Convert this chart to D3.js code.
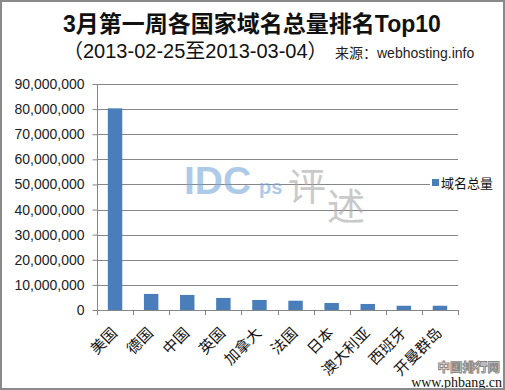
<!DOCTYPE html>
<html>
<head>
<meta charset="utf-8">
<script src="https://cdn.jsdelivr.net/npm/d3@7"></script>
<style>
  html, body { margin: 0; padding: 0; background: #fff; }
  svg { display: block; }
</style>
</head>
<body>
<svg id="chart" width="505" height="390"></svg>
<script>
const categories = ["美国", "德国", "中国", "英国", "加拿大", "法国", "日本", "澳大利亚", "西班牙", "开曼群岛"];
const values = [80300000, 6400000, 6000000, 4800000, 4000000, 3700000, 2800000, 2400000, 1700000, 1700000];
const yTicks = [0, 10000000, 20000000, 30000000, 40000000, 50000000, 60000000, 70000000, 80000000, 90000000];
const seriesName = "域名总量";
const titleText = "3月第一周各国家域名总量排名Top10";
const subtitleText = "（2013-02-25至2013-03-04）";
const sourceText = "来源：webhosting.info";

const svg = d3.select("#chart");
const W = 505, H = 390;
const plot = { left: 97, right: 458, top: 84, bottom: 310 };
const sans = "'Liberation Sans', Arial, 'Noto Sans CJK SC', sans-serif";
const serif = "'Liberation Serif', 'Times New Roman', 'Noto Sans CJK SC', serif";

svg.append("rect").attr("x", 0).attr("y", 0).attr("width", W).attr("height", H).attr("fill", "#fff");

const x = d3.scaleBand().domain(categories).range([plot.left, plot.right]).paddingInner(0.6).paddingOuter(0.3);
const y = d3.scaleLinear().domain([0, 90000000]).range([plot.bottom, plot.top]);

// gridlines
svg.append("g").selectAll("line").data(yTicks.filter(d => d > 0)).join("line")
  .attr("x1", plot.left).attr("x2", plot.right)
  .attr("y1", d => Math.round(y(d)) + 0.5).attr("y2", d => Math.round(y(d)) + 0.5)
  .attr("stroke", "#868686").attr("stroke-width", 1);

// bars
svg.append("g").selectAll("rect").data(values).join("rect")
  .attr("x", (d, i) => x(categories[i]))
  .attr("width", x.bandwidth())
  .attr("y", d => y(d))
  .attr("height", d => y(0) - y(d))
  .attr("fill", "#4a7ebb");

// y axis
const yAxis = d3.axisLeft(y).tickValues(yTicks).tickFormat(d3.format(",")).tickSize(5).tickPadding(8);
const gy = svg.append("g").attr("transform", `translate(${plot.left + 0.5},0)`).call(yAxis);
gy.select(".domain").attr("stroke", "#868686").attr("d", `M0,${plot.top}V${plot.bottom}`);
gy.selectAll(".tick line").attr("stroke", "#868686");
gy.selectAll(".tick text").attr("font-family", sans).attr("font-size", 14).attr("fill", "#222");

// x axis
const gx = svg.append("g");
gx.append("line").attr("x1", plot.left).attr("x2", plot.right)
  .attr("y1", plot.bottom + 0.5).attr("y2", plot.bottom + 0.5).attr("stroke", "#868686");
const step = x.step();
const bounds = d3.range(categories.length + 1).map(i => plot.left + i * step);
gx.selectAll("line.tk").data(bounds).join("line").attr("class", "tk")
  .attr("x1", d => Math.round(d) + 0.5).attr("x2", d => Math.round(d) + 0.5)
  .attr("y1", plot.bottom).attr("y2", plot.bottom + 5).attr("stroke", "#868686");
gx.selectAll("text").data(categories).join("text")
  .attr("transform", d => `translate(${x(d) + x.bandwidth() / 2 + 3},${plot.bottom + 24}) rotate(-45)`)
  .attr("text-anchor", "end")
  .attr("font-family", serif).attr("font-size", 15).attr("fill", "#111")
  .text(d => d);

// watermark (center)
const wm = svg.append("g").attr("opacity", 0.6);
wm.append("text").attr("x", 184).attr("y", 194).attr("font-family", sans).attr("font-weight", "bold")
  .attr("font-size", 39).attr("fill", "#7aa7dc").text("IDC");
wm.append("text").attr("x", 259).attr("y", 194).attr("font-family", sans).attr("font-weight", "bold")
  .attr("font-size", 20).attr("fill", "#7aa7dc").text("ps");
wm.append("text").attr("x", 288).attr("y", 200).attr("font-family", "'Noto Sans CJK SC', sans-serif")
  .attr("font-size", 38).attr("fill", "#a8a8a8").text("评");
wm.append("text").attr("x", 327).attr("y", 220).attr("font-family", "'Noto Sans CJK SC', sans-serif")
  .attr("font-size", 38).attr("fill", "#a8a8a8").text("述");

// legend
svg.append("rect").attr("x", 430).attr("y", 172).attr("width", 70).attr("height", 22).attr("fill", "#fff");
svg.append("rect").attr("x", 432).attr("y", 179).attr("width", 7).attr("height", 7).attr("fill", "#4a7ebb");
svg.append("text").attr("x", 441).attr("y", 188).attr("font-family", "'Noto Sans CJK SC', sans-serif")
  .attr("font-size", 13).attr("fill", "#111").text(seriesName);

// titles
svg.append("text").attr("x", 63).attr("y", 32).attr("font-family", sans).attr("font-weight", "bold")
  .attr("font-size", 23).attr("fill", "#111").text(titleText);
svg.append("text").attr("x", 63).attr("y", 58).attr("font-family", sans)
  .attr("font-size", 20).attr("fill", "#111").text(subtitleText);
svg.append("text").attr("x", 335).attr("y", 58).attr("font-family", sans)
  .attr("font-size", 14).attr("fill", "#222").text(sourceText);

// bottom-right watermark
svg.append("text").attr("x", 500).attr("y", 372).attr("text-anchor", "end")
  .attr("font-family", "'Noto Sans CJK SC', sans-serif").attr("font-weight", "bold")
  .attr("font-size", 12.5).attr("fill", "#fff").attr("stroke", "#888").attr("stroke-width", 1)
  .text("中国排行网");
svg.append("text").attr("x", 502).attr("y", 387).attr("text-anchor", "end")
  .attr("font-family", serif).attr("font-size", 14).attr("fill", "#111").text("www.phbang.cn");

// frame
svg.append("rect").attr("x", 1).attr("y", 1).attr("width", W - 2).attr("height", H - 2)
  .attr("fill", "none").attr("stroke", "#8a8a8a").attr("stroke-width", 2);
</script>
</body>
</html>
